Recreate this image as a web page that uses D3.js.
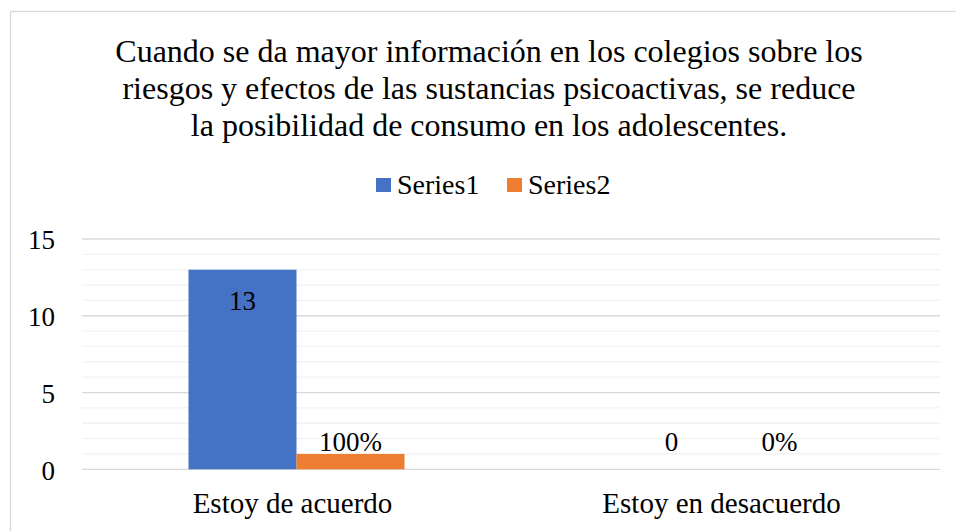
<!DOCTYPE html>
<html>
<head>
<meta charset="utf-8">
<script src="https://cdn.jsdelivr.net/npm/d3@7"></script>
<style>
  html, body { margin: 0; padding: 0; background: #fff; }
  svg { display: block; }
</style>
</head>
<body>
<svg id="chart" width="956" height="531"></svg>
<script>
const titleLines = [
  "Cuando se da mayor información en los colegios sobre los",
  "riesgos y efectos de las sustancias psicoactivas, se reduce",
  "la posibilidad de consumo en los adolescentes."
];
const categories = ["Estoy de acuerdo", "Estoy en desacuerdo"];
const seriesNames = ["Series1", "Series2"];
const series1 = [13, 0];
const series2 = [1, 0];
const series1Labels = ["13", "0"];
const series2Labels = ["100%", "0%"];
const yTicks = [0, 5, 10, 15];
const colors = ["#4472C4", "#ED7D31"];

const FONT = "Liberation Serif";
const svg = d3.select("#chart");

function styleText(sel, size) {
  return sel.attr("font-family", FONT).style("font-family", FONT)
    .style("font-size", size + "px").style("fill", "#000");
}

// chart border
svg.append("rect")
  .attr("x", 10.5).attr("y", 11.5)
  .attr("width", 1000).attr("height", 600)
  .attr("fill", "none").attr("stroke", "#d9d9d9").attr("stroke-width", 1.3);

// title
const titleX = 489;
styleText(svg.append("g").selectAll("text").data(titleLines).join("text")
  .attr("x", titleX)
  .attr("y", (d, i) => 61.5 + i * 37.3)
  .attr("text-anchor", "middle")
  .text(d => d), 32);

// scales
const x = d3.scaleBand().domain(categories).range([82, 940]).paddingInner(0).paddingOuter(0);
const barW = 108;
const xs = d3.scaleBand().domain(seriesNames).range([-barW, barW]).padding(0);
const y = d3.scaleLinear().domain([0, 15]).range([469.3, 239]);

// gridlines
const minor = d3.range(0, 16);
svg.append("g").selectAll("line").data(minor.filter(v => !yTicks.includes(v))).join("line")
  .attr("x1", x.range()[0]).attr("x2", x.range()[1])
  .attr("y1", d => y(d)).attr("y2", d => y(d))
  .attr("stroke", "#f2f2f2").attr("stroke-width", 1.3);
svg.append("g").selectAll("line").data(yTicks).join("line")
  .attr("x1", x.range()[0]).attr("x2", x.range()[1])
  .attr("y1", d => y(d)).attr("y2", d => y(d))
  .attr("stroke", "#d9d9d9").attr("stroke-width", 1.3);

// y axis labels
const yAxis = d3.axisLeft(y).tickValues(yTicks).tickSize(0).tickPadding(0).tickFormat(d3.format("d"));
const yg = svg.append("g").attr("transform", "translate(55,0)").call(yAxis);
yg.select(".domain").remove();
styleText(yg.selectAll("text"), 27).attr("dy", "0.36em");

// bars
const data = [series1, series2];
const labels = [series1Labels, series2Labels];
seriesNames.forEach((s, si) => {
  const g = svg.append("g");
  g.selectAll("rect").data(categories).join("rect")
    .attr("x", c => x(c) + x.bandwidth() / 2 + xs(s))
    .attr("y", (c, i) => y(data[si][i]))
    .attr("width", xs.bandwidth())
    .attr("height", (c, i) => y(0) - y(data[si][i]))
    .attr("fill", colors[si]);
  styleText(g.selectAll("text").data(categories).join("text")
    .attr("x", c => x(c) + x.bandwidth() / 2 + xs(s) + xs.bandwidth() / 2)
    .attr("y", (c, i) => {
      const v = data[si][i];
      if (si === 0) return (y(0) - y(v) > 45) ? y(v) + 40 : y(0) - 18;
      return Math.min(y(v) - 2, y(0) - 18);
    })
    .attr("text-anchor", "middle")
    .text((c, i) => labels[si][i]), 27);
});

// category labels
const xAxis = d3.axisBottom(x).tickSize(0).tickPadding(0);
const xg = svg.append("g").attr("transform", `translate(0,${y(0)})`).call(xAxis);
xg.select(".domain").remove();
styleText(xg.selectAll("text"), 29).attr("dy", null).attr("y", 44).attr("dx", -4);

// legend
const legend = svg.append("g");
const legendX = [376, 507];
seriesNames.forEach((s, i) => {
  legend.append("rect").attr("x", legendX[i]).attr("y", 178).attr("width", 15).attr("height", 14).attr("fill", colors[i]);
  styleText(legend.append("text").attr("x", legendX[i] + 21).attr("y", 194).text(s), 28);
});
</script>
</body>
</html>
